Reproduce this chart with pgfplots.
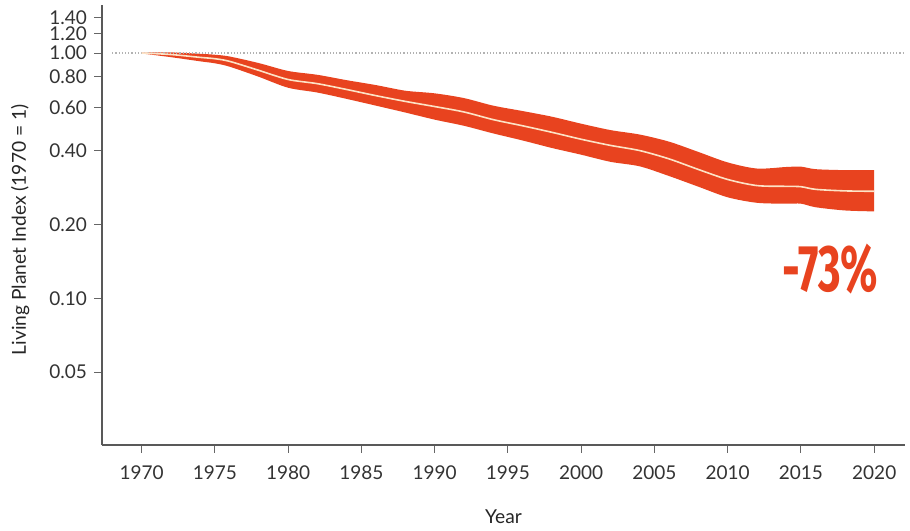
\documentclass[border=0pt]{standalone}
\usepackage{pgfplots}
\usepackage{pgfplotstable}
\pgfplotsset{compat=1.18}
\usepgfplotslibrary{fillbetween}
\usepackage{fontspec}
\setmainfont{Lato}
\newfontfamily\bigfont[FakeStretch=0.66]{Fira Sans}

\definecolor{lpired}{HTML}{E8431F}
\definecolor{lpiline}{HTML}{FDE3C6}

% year, lower bound, index, upper bound
\pgfplotstableread{
year lo mid hi
1970 0.996 1.000 1.004
1972 0.962 0.986 1.006
1974 0.925 0.960 0.993
1975 0.908 0.948 0.984
1976 0.880 0.925 0.968
1978 0.800 0.850 0.910
1980 0.722 0.780 0.845
1982 0.690 0.750 0.815
1984 0.650 0.710 0.775
1986 0.610 0.670 0.740
1988 0.572 0.635 0.702
1990 0.535 0.605 0.685
1992 0.505 0.575 0.655
1994 0.470 0.535 0.610
1996 0.440 0.505 0.580
1998 0.410 0.475 0.550
2000 0.385 0.445 0.515
2002 0.360 0.420 0.485
2004 0.345 0.400 0.465
2006 0.315 0.370 0.435
2008 0.285 0.335 0.395
2010 0.258 0.305 0.358
2012 0.245 0.288 0.338
2014 0.243 0.286 0.343
2015 0.243 0.285 0.344
2016 0.235 0.278 0.336
2018 0.228 0.274 0.333
2020 0.226 0.273 0.333
}\lpi

\begin{document}
\begin{tikzpicture}
\begin{axis}[
    scale only axis,
    width=401.5pt, height=220pt,
    ymode=log,
    xmin=1967.3, xmax=2022.1,
    ymin=0.0252, ymax=1.57,
    axis x line*=bottom, axis y line*=left,
    axis line style={draw=black!65, line width=0.6pt},
    xtick={1970,1975,...,2020},
    ytick={0.05,0.1,0.2,0.4,0.6,0.8,1,1.2,1.4},
    yticklabels={\mbox{0.05},\mbox{0.10},\mbox{0.20},\mbox{0.40},\mbox{0.60},\mbox{0.80},\mbox{1.00},\mbox{1.20},\mbox{1.40}},
    yminorticks=false,
    tick align=outside,
    major tick length=4pt,
    tick style={draw=black!60, line width=0.5pt},
    ticklabel style={font=\fontsize{9.5}{11}\selectfont, text=black!80},
    xticklabel style={/pgf/number format/1000 sep=, yshift=-3pt},
    /pgf/number format/assume math mode=true,
    xlabel={Year},
    ylabel={Living Planet Index (1970 = 1)},
    label style={font=\fontsize{9.6}{11}\selectfont, text=black!85},
    xlabel style={at={(axis description cs:0.5,0)}, anchor=center, yshift=-36pt},
    ylabel style={at={(axis description cs:-0.102,0.489)}, anchor=center},
    clip=false,
]
\addplot[densely dotted, black!30, line width=0.6pt] coordinates {(1968,1) (2022.1,1)};
\addplot[name path=lo, draw=none, smooth] table[x=year, y=lo] {\lpi};
\addplot[name path=hi, draw=none, smooth] table[x=year, y=hi] {\lpi};
\addplot[lpired, draw=none] fill between[of=hi and lo];
\addplot[lpiline, line width=0.8pt, smooth] table[x=year, y=mid] {\lpi};
\node[anchor=east, text=lpired, inner sep=0pt,
      font=\bigfont\bfseries\fontsize{33}{33}\selectfont] at (axis cs:2020.3,0.131) {-73\%};
\end{axis}
\path (current axis.south west) ++(-51pt,-40.5pt) coordinate (bbA);
\path (current axis.south west) ++(404pt,222.5pt) coordinate (bbB);
\path (bbA) rectangle (bbB);
\end{tikzpicture}
\end{document}
